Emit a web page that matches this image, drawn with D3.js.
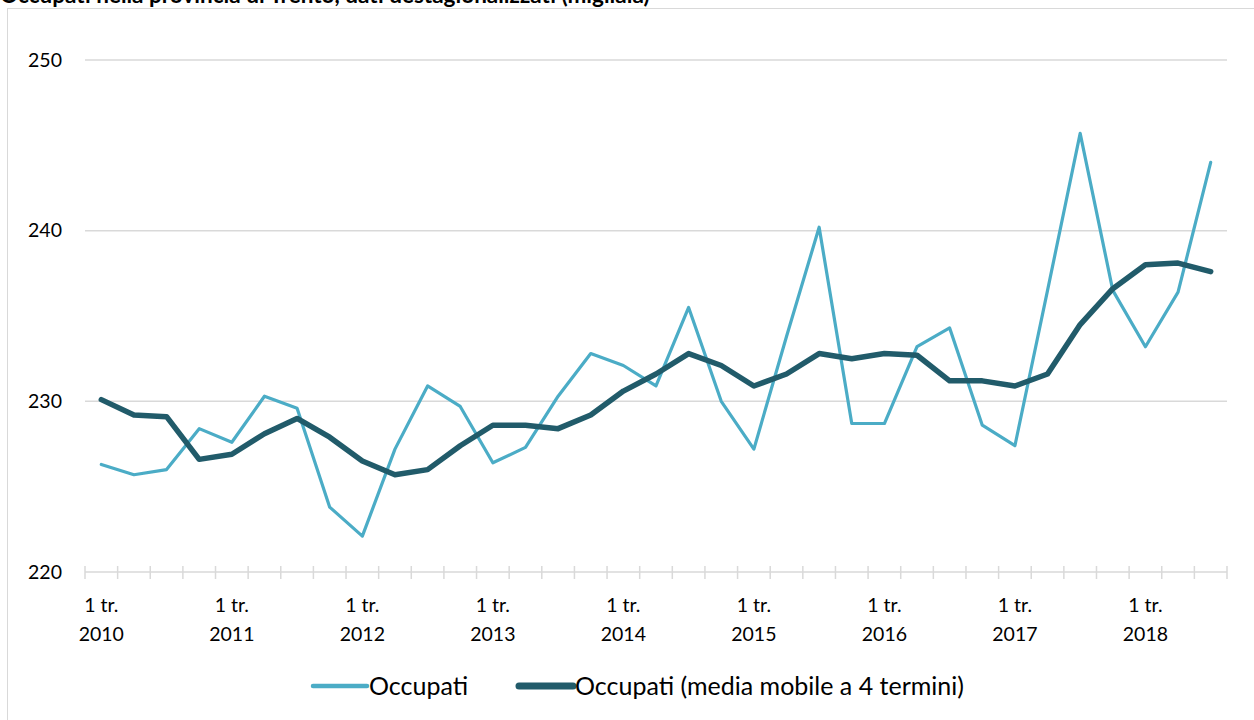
<!DOCTYPE html>
<html>
<head>
<meta charset="utf-8">
<script src="https://cdn.jsdelivr.net/npm/d3@7"></script>
<style>
  body { margin: 0; background: #fff; }
  svg { display: block; font-family: Lato, "Open Sans", sans-serif; }
</style>
</head>
<body>
<div id="chart"></div>
<script>
// quarters 2010 Q1 .. 2018 Q3
var years = [2010, 2011, 2012, 2013, 2014, 2015, 2016, 2017, 2018];
var quarters = [];
years.forEach(function(y) {
    for (var q = 1; q <= 4; q++) {
        if (y == 2018 && q == 4) continue;
        quarters.push(y + "Q" + q);
    }
});

// occupati (migliaia)
var occupati = [226.3, 225.7, 226.0, 228.4, 227.6, 230.3, 229.6, 223.8,
                222.1, 227.2, 230.9, 229.7, 226.4, 227.3, 230.3, 232.8,
                232.1, 230.9, 235.5, 230.0, 227.2, 233.8, 240.2, 228.7,
                228.7, 233.2, 234.3, 228.6, 227.4, 236.5, 245.7, 236.5,
                233.2, 236.4, 244.0];

// media mobile a 4 termini
var mediaMobile = [230.1, 229.2, 229.1, 226.6, 226.9, 228.1, 229.0, 227.9,
                   226.5, 225.7, 226.0, 227.4, 228.6, 228.6, 228.4, 229.2,
                   230.6, 231.6, 232.8, 232.1, 230.9, 231.6, 232.8, 232.5,
                   232.8, 232.7, 231.2, 231.2, 230.9, 231.6, 234.5, 236.6,
                   238.0, 238.1, 237.6];

var yTicks = [220, 230, 240, 250];
var titolo = "Occupati nella provincia di Trento, dati destagionalizzati (migliaia)";
var legendLabels = ["Occupati", "Occupati (media mobile a 4 termini)"];
var colors = ["#4bacc6", "#215b6a"];

var W = 1254, H = 720;
var svg = d3.select("#chart").append("svg")
    .attr("width", W)
    .attr("height", H);

// title (cut at the top like the original)
svg.append("text")
    .attr("x", 0)
    .attr("y", 3)
    .attr("font-size", 22.5)
    .attr("font-weight", "bold")
    .attr("fill", "#000")
    .text(titolo);

// chart frame
svg.append("rect")
    .attr("x", 7.5).attr("y", 8.5)
    .attr("width", W - 7).attr("height", H)
    .attr("fill", "none")
    .attr("stroke", "#d9d9d9")
    .attr("stroke-width", 1);

var x = d3.scaleBand()
    .domain(quarters)
    .range([85, 1227])
    .padding(0);

var y = d3.scaleLinear()
    .domain([220, 250])
    .range([572, 60]);

// gridlines
svg.append("g")
    .selectAll("line")
    .data(yTicks.filter(function(d) { return d > 220; }))
    .enter()
    .append("line")
    .attr("x1", 85).attr("x2", 1227)
    .attr("y1", function(d) { return y(d); })
    .attr("y2", function(d) { return y(d); })
    .attr("stroke", "#d9d9d9")
    .attr("stroke-width", 1.5);

// y labels
svg.append("g")
    .selectAll("text")
    .data(yTicks)
    .enter()
    .append("text")
    .attr("x", 62)
    .attr("y", function(d) { return y(d); })
    .attr("dy", "0.35em")
    .attr("text-anchor", "end")
    .attr("font-size", 19.5)
    .attr("fill", "#000")
    .text(function(d) { return d; });

// x axis line + crossing ticks at category boundaries
var xAxis = svg.append("g");
xAxis.append("line")
    .attr("x1", 85).attr("x2", 1227)
    .attr("y1", y(220)).attr("y2", y(220))
    .attr("stroke", "#d9d9d9")
    .attr("stroke-width", 1.5);

var bounds = quarters.map(function(q) { return x(q); });
bounds.push(x(quarters[quarters.length - 1]) + x.bandwidth());
xAxis.selectAll("line.tick")
    .data(bounds)
    .enter()
    .append("line")
    .attr("class", "tick")
    .attr("x1", function(d) { return d; })
    .attr("x2", function(d) { return d; })
    .attr("y1", y(220) - 6).attr("y2", y(220) + 7)
    .attr("stroke", "#d9d9d9")
    .attr("stroke-width", 1.5);

// x labels only at first quarter of each year
var labelled = quarters.filter(function(q) { return q.slice(-2) == "Q1"; });
var xl = xAxis.selectAll("text.xl")
    .data(labelled)
    .enter()
    .append("text")
    .attr("class", "xl")
    .attr("text-anchor", "middle")
    .attr("font-size", 19.5)
    .attr("fill", "#000");
xl.append("tspan")
    .attr("x", function(d) { return x(d) + x.bandwidth() / 2; })
    .attr("y", 612)
    .text("1 tr.");
xl.append("tspan")
    .attr("x", function(d) { return x(d) + x.bandwidth() / 2; })
    .attr("y", 641)
    .text(function(d) { return d.slice(0, 4); });

// lines
var line = d3.line()
    .x(function(d, i) { return x(quarters[i]) + x.bandwidth() / 2; })
    .y(function(d) { return y(d); });

svg.append("path")
    .datum(occupati)
    .attr("d", line)
    .attr("fill", "none")
    .attr("stroke", colors[0])
    .attr("stroke-width", 3.2)
    .attr("stroke-linejoin", "round")
    .attr("stroke-linecap", "round");

svg.append("path")
    .datum(mediaMobile)
    .attr("d", line)
    .attr("fill", "none")
    .attr("stroke", colors[1])
    .attr("stroke-width", 5.5)
    .attr("stroke-linejoin", "round")
    .attr("stroke-linecap", "round");

// legend
var legendX = [313, 519];
var legendW = [4.5, 7];
var lg = svg.append("g").selectAll("g")
    .data(legendLabels)
    .enter()
    .append("g")
    .attr("transform", function(d, i) { return "translate(" + legendX[i] + ",686)"; });
lg.append("line")
    .attr("x1", 0).attr("x2", 54)
    .attr("stroke", function(d, i) { return colors[i]; })
    .attr("stroke-width", function(d, i) { return legendW[i]; })
    .attr("stroke-linecap", "round");
lg.append("text")
    .attr("x", 56)
    .attr("dy", "0.35em")
    .attr("font-size", 25)
    .attr("fill", "#000")
    .text(function(d) { return d; });
</script>
</body>
</html>
